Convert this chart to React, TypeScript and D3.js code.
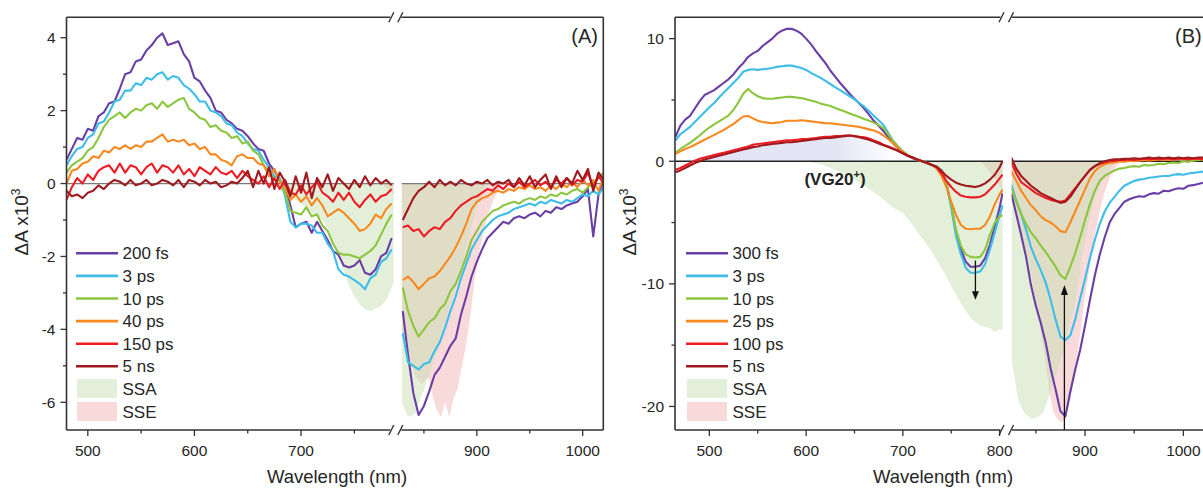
import React from "react";
import * as d3 from "d3";

// ---------------- DATA ----------------
const A_LABELS = ["200 fs", "3 ps", "10 ps", "40 ps", "150 ps", "5 ns"];
const B_LABELS = ["300 fs", "3 ps", "10 ps", "25 ps", "100 ps", "5 ns"];
const COLORS = ["#6a3fa5", "#3dbde8", "#8cc63e", "#f7891f", "#ed1c24", "#a0191e"];

// Panel A, segment 1 (visible range)
const A1_WL = [480,485,490,495,500,505,510,515,520,525,530,535,540,545,550,555,560,565,570,575,580,585,590,595,600,605,610,615,620,625,630,635,640,645,650,655,660,665,670,675,680,685,690,695,700,705,710,715,720,725,730,735,740,745,750,755,760,765,770,775,780,785];
const A1_200FS = [0.65,0.95,1.25,1.2,1.5,1.45,1.85,1.95,2.2,2.25, 2.6,3.0,3.05,3.35,3.4,3.65,3.8,4.0,4.12,3.8, 3.85,3.9,3.55,3.35,2.9,2.8,2.55,2.35,2.0,1.95, 1.75,1.65,1.5,1.45,1.3,1.1,0.95,0.9,0.55,0.35, 0.1,-0.05,-0.6,-1.2,-1.1,-1.05,-1.35,-1.05,-1.3,-1.55, -1.85,-1.95,-2.25,-2.3,-2.25,-2.1,-2.45,-2.5,-2.35,-2.0, -1.9,-1.5];
const A1_3PS = [0.5,0.75,0.95,1.0,1.25,1.35,1.65,1.7,1.95,2.25, 2.3,2.55,2.55,2.75,2.7,2.9,2.85,3.0,3.05,2.85, 2.95,2.9,2.7,2.6,2.45,2.25,2.25,2.0,1.95,1.85, 1.65,1.6,1.4,1.3,1.1,0.95,0.9,0.65,0.45,0.2, 0.15,-0.35,-1.05,-1.2,-1.1,-1.1,-1.15,-1.35,-1.35,-1.65, -1.85,-2.35,-2.5,-2.55,-2.65,-2.75,-2.9,-2.6,-2.5,-2.15, -2.05,-1.8];
const A1_10PS = [0.3,0.5,0.6,0.7,0.9,1.0,1.25,1.55,1.75,1.85, 1.95,1.8,1.95,2.05,2.0,2.15,2.2,2.05,2.25,2.1, 2.2,2.3,2.35,2.05,1.95,1.8,1.75,1.55,1.6,1.45, 1.4,1.25,1.3,1.1,1.15,0.9,0.8,0.5,0.35,0.1, 0.1,-0.25,-0.75,-0.8,-0.85,-0.65,-0.9,-0.85,-1.15,-1.3, -1.65,-1.9,-1.95,-1.95,-2.0,-2.05,-1.95,-1.85,-1.7,-1.4, -1.1,-0.85];
const A1_40PS = [0.0,0.35,0.4,0.55,0.6,0.75,0.7,0.9,0.85,1.0, 0.95,1.05,0.95,1.05,1.0,1.15,1.15,1.25,1.35,1.15, 1.2,1.15,1.2,1.05,1.1,0.95,1.0,0.8,0.8,0.65, 0.6,0.5,0.75,0.8,0.7,0.7,0.55,0.5,0.2,0.4, 0.05,-0.1,-0.45,-0.3,-0.5,-0.35,-0.6,-0.4,-0.6,-0.9, -0.8,-0.7,-0.8,-0.95,-1.1,-1.3,-1.25,-1.1,-0.85,-0.95, -0.7,-0.55];
const A1_150PS = [-0.45,-0.1,0.15,0.0,0.25,0.1,0.35,0.45,0.5,0.3, 0.55,0.3,0.5,0.45,0.25,0.45,0.55,0.3,0.5,0.45, 0.3,0.5,0.25,0.4,0.2,0.45,0.35,0.25,0.45,0.3, 0.25,0.35,0.15,0.35,0.2,0.1,0.0,0.2,-0.1,0.15, -0.15,0.1,-0.25,-0.3,-0.05,-0.3,-0.1,0.05,-0.25,-0.35, -0.5,-0.25,-0.45,-0.25,-0.5,-0.65,-0.45,-0.3,-0.5,-0.35, -0.3,-0.15];
const A1_5NS = [-0.2,-0.35,-0.3,-0.4,-0.25,-0.2,-0.05,-0.15,0.0,0.1, 0.05,-0.05,0.1,-0.05,0.0,0.1,-0.05,0.0,0.1,0.05, -0.05,0.1,-0.1,0.1,0.05,-0.05,0.1,0.0,0.05,-0.1, -0.05,0.05,0.0,0.15,0.35,-0.1,0.35,0.0,0.45,-0.15, 0.3,0.05,-0.35,0.2,-0.25,0.3,-0.4,0.15,-0.1,0.25, -0.2,0.15,0.0,-0.15,0.1,-0.1,0.2,-0.05,0.15,0.0, 0.1,-0.05];

// Panel A, segment 2
const A2_WL = [830,835,840,845,850,855,860,865,870,875,880,885,890,895,900,905,910,915,920,925,930,935,940,945,950,955,960,965,970,975,980,985,990,995,1000,1005,1010,1015,1020];
const A2_200FS = [-3.5,-4.7,-5.75,-6.35,-6.1,-5.7,-5.25,-5.05,-4.75,-4.45, -4.25,-3.6,-3.1,-2.55,-2.15,-1.8,-1.5,-1.35,-1.2,-1.05, -1.1,-0.95,-0.9,-0.95,-0.85,-0.8,-0.9,-0.75,-0.8,-0.65, -0.7,-0.6,-0.55,-0.5,-0.35,-0.15,-1.45,-0.3,0.1];
const A2_3PS = [-4.1,-4.9,-5.0,-5.1,-4.95,-4.9,-4.6,-4.35,-3.95,-3.5, -3.1,-2.6,-2.2,-1.8,-1.55,-1.3,-1.15,-1.0,-0.9,-0.85, -0.8,-0.7,-0.65,-0.6,-0.55,-0.6,-0.5,-0.55,-0.45,-0.5, -0.55,-0.45,-0.5,-0.4,-0.3,-0.35,-0.2,-0.3,-0.1];
const A2_10PS = [-2.85,-3.5,-3.9,-4.2,-4.0,-3.8,-3.7,-3.45,-3.3,-2.95, -2.75,-2.4,-2.0,-1.55,-1.3,-1.05,-0.9,-0.75,-0.7,-0.6, -0.55,-0.5,-0.55,-0.45,-0.4,-0.45,-0.35,-0.4,-0.3,-0.35, -0.25,-0.3,-0.2,-0.15,-0.25,-0.1,0.0,0.15,0.3];
const A2_40PS = [-2.65,-2.55,-2.7,-2.9,-2.75,-2.6,-2.55,-2.4,-2.2,-2.0, -1.75,-1.45,-1.1,-0.7,-0.5,-0.4,-0.35,-0.25,-0.2,-0.25, -0.15,-0.2,-0.1,-0.15,-0.05,-0.15,-0.1,-0.2,-0.05,-0.15, 0.0,-0.1,0.05,-0.1,0.1,-0.05,0.1,-0.2,0.2];
const A2_150PS = [-1.2,-1.15,-1.3,-1.25,-1.45,-1.3,-1.2,-1.25,-1.05,-0.95, -0.75,-0.6,-0.5,-0.4,-0.35,-0.25,-0.15,-0.2,-0.05,-0.15, 0.0,-0.1,0.05,-0.1,0.0,0.1,-0.05,0.05,-0.1,0.1, 0.0,0.15,-0.05,0.1,0.05,0.3,-0.1,0.2,0.0];
const A2_5NS = [-1.0,-0.7,-0.4,-0.2,-0.1,0.05,-0.1,0.1,-0.05,0.05, -0.05,0.1,0.0,-0.05,0.05,0.0,0.1,-0.05,0.05,0.0, 0.1,-0.1,0.15,-0.05,0.2,-0.1,0.1,0.25,-0.15,0.2, -0.1,0.15,0.0,0.35,0.1,0.4,-0.2,0.3,0.1];

// Panel A steady-state fills
const A1_SSA_WL = [665,680,690,700,710,720,725,730,735,740,745,750,755,760,765,770,775,780,785,787];
const A1_SSA = [0,-0.15,-0.35,-0.55,-0.8,-1.0,-1.2,-1.6,-2.0,-2.4,-2.8,-3.1,-3.3,-3.45,-3.5,-3.42,-3.35,-3.2,-2.85,-2.7];
const A1_SSE_WL = [775,781,787];
const A1_SSE = [0,-0.15,-0.3];
const A2_SSA_WL = [829,835,842,848,857,866,875,885,892,901,908,913];
const A2_SSA = [-6.0,-6.4,-6.3,-5.8,-5.1,-4.2,-3.3,-2.4,-1.5,-0.55,-0.1,0];
const A2_SSE_WL = [829,835,842,848,854,858,862,866,870,874,878,882,886,890,894,898,902,906,910,915,920,926];
const A2_SSE = [-4.0,-4.6,-5.3,-5.5,-5.3,-5.8,-6.2,-6.4,-6.0,-6.4,-5.9,-5.6,-5.0,-4.4,-3.6,-2.6,-1.9,-1.4,-0.9,-0.5,-0.2,0];

// Panel B, segment 1
const B1_WL = [465,470,475,480,485,490,495,500,505,510,515,520,525,530,535,540,545,550,555,560,565,570,575,580,585,590,595,600,605,610,615,620,625,630,635,640,645,650,655,660,665,670,675,680,685,690,695,700,705,710,715,720,725,730,735,740,745,750,755,760,765,770,775,780,785,790,795,800,803];
const B1_300FS = [2.0,2.9,3.4,3.7,4.3,4.9,5.4,5.6,5.8,6.1, 6.4,6.7,7.1,7.6,8.0,8.5,8.8,9.0,9.4,9.7, 10.0,10.4,10.65,10.8,10.8,10.65,10.4,10.0,9.55,9.0, 8.5,8.0,7.4,6.9,6.4,5.95,5.5,5.1,4.7,4.3, 3.8,3.3,2.9,2.45,1.95,1.45,1.05,0.7,0.45,0.25, 0.1,0.0,-0.15,-0.3,-0.45,-0.75,-1.8,-3.6,-5.8,-7.2, -8.2,-8.6,-8.6,-8.5,-7.9,-6.8,-5.3,-3.8,-2.6];
const B1_3PS = [1.7,2.2,2.5,2.8,3.2,3.6,4.0,4.4,4.75,5.2, 5.6,6.0,6.4,6.8,7.3,7.45,7.5,7.45,7.5,7.55, 7.6,7.7,7.75,7.8,7.8,7.7,7.6,7.45,7.2,7.0, 6.8,6.55,6.3,6.05,5.8,5.55,5.3,5.05,4.75,4.45, 4.1,3.7,3.35,2.95,2.3,1.65,1.2,0.8,0.5,0.3, 0.1,0.0,-0.15,-0.3,-0.45,-0.8,-1.9,-3.8,-6.1,-7.6, -8.7,-9.1,-9.1,-9.0,-8.4,-7.2,-5.8,-4.4,-3.6];
const B1_10PS = [0.7,1.0,1.25,1.5,1.8,2.1,2.45,2.75,3.0,3.25, 3.5,3.75,4.2,4.8,5.5,5.9,5.55,5.3,5.15,5.1, 5.1,5.15,5.2,5.25,5.25,5.2,5.15,5.05,4.95,4.85, 4.7,4.6,4.5,4.35,4.2,4.05,3.9,3.75,3.6,3.45, 3.3,3.15,2.95,2.7,2.2,1.65,1.2,0.8,0.5,0.3, 0.1,0.0,-0.15,-0.3,-0.45,-0.8,-1.8,-3.6,-5.6,-6.9, -7.6,-7.8,-7.85,-7.8,-7.2,-6.0,-5.0,-4.5,-4.4];
const B1_25PS = [0.6,0.8,1.0,1.15,1.35,1.55,1.75,1.95,2.15,2.35, 2.55,2.8,3.05,3.35,3.65,3.7,3.5,3.3,3.2,3.15, 3.1,3.15,3.2,3.3,3.3,3.3,3.35,3.3,3.25,3.2, 3.15,3.1,3.1,3.05,3.0,2.95,2.9,2.85,2.8,2.7, 2.6,2.5,2.35,2.1,1.8,1.45,1.1,0.75,0.5,0.3, 0.15,0.0,-0.15,-0.3,-0.6,-1.2,-2.1,-3.3,-4.4,-5.2, -5.5,-5.55,-5.5,-5.5,-5.2,-4.5,-3.5,-2.7,-2.3];
const B1_100PS = [-0.7,-0.55,-0.35,-0.15,0.05,0.2,0.3,0.4,0.5,0.6, 0.7,0.8,0.9,1.0,1.1,1.2,1.35,1.4,1.45,1.5, 1.55,1.6,1.65,1.7,1.7,1.75,1.8,1.8,1.85,1.9, 1.95,2.0,2.0,2.05,2.05,2.1,2.1,2.05,2.0,1.95, 1.85,1.7,1.55,1.35,1.2,1.05,0.85,0.65,0.45,0.3, 0.15,0.0,-0.15,-0.3,-0.5,-1.0,-1.6,-2.1,-2.5,-2.8, -2.9,-2.95,-2.95,-2.9,-2.7,-2.3,-1.9,-1.4,-1.1];
const B1_5NS = [-0.9,-0.75,-0.55,-0.35,-0.15,0.0,0.15,0.25,0.35,0.45, 0.55,0.65,0.75,0.85,0.95,1.05,1.15,1.2,1.3,1.35, 1.4,1.45,1.5,1.55,1.55,1.6,1.65,1.7,1.75,1.8, 1.85,1.9,1.9,1.95,2.0,2.05,2.1,2.05,1.95,1.85, 1.75,1.6,1.45,1.3,1.15,1.0,0.85,0.65,0.45,0.3, 0.15,0.0,-0.15,-0.3,-0.45,-0.8,-1.2,-1.5,-1.75,-1.9, -2.0,-2.05,-2.1,-2.0,-1.8,-1.5,-1.1,-0.5,0.0];

// Panel B, segment 2
const B2_WL = [825,830,835,840,845,850,855,860,865,870,875,880,885,890,895,900,905,910,915,920,925,930,935,940,945,950,955,960,965,970,975,980,985,990,995,1000,1005,1010,1015,1020];
const B2_300FS = [-2.6,-4.3,-6.0,-7.8,-10.1,-11.8,-13.2,-14.8,-16.9,-18.6, -20.4,-20.8,-18.8,-17.0,-15.4,-13.4,-11.3,-9.3,-7.6,-6.2, -5.0,-4.3,-3.8,-3.3,-3.1,-2.95,-2.85,-2.9,-2.7,-2.6, -2.65,-2.4,-2.45,-2.3,-2.2,-2.25,-2.0,-1.95,-1.85,-1.75];
const B2_3PS = [-1.9,-3.2,-4.3,-5.6,-7.0,-8.0,-8.9,-9.9,-11.3,-12.9, -14.3,-14.6,-14.2,-12.9,-11.2,-9.6,-7.9,-6.4,-5.1,-4.1, -3.4,-2.9,-2.4,-2.0,-1.8,-1.6,-1.5,-1.45,-1.35,-1.3, -1.25,-1.2,-1.2,-1.1,-1.05,-1.1,-1.0,-0.95,-0.9,-0.85];
const B2_10PS = [-2.2,-3.3,-4.3,-5.1,-5.8,-6.3,-6.9,-7.4,-8.0,-8.6, -9.3,-9.6,-8.6,-7.5,-6.2,-4.8,-3.5,-2.4,-1.6,-1.2, -0.95,-0.75,-0.6,-0.55,-0.45,-0.4,-0.45,-0.3,-0.35,-0.3, -0.2,-0.25,-0.15,-0.1,-0.15,0.0,-0.05,0.05,0.1,0.1];
const B2_25PS = [-0.8,-1.6,-2.4,-3.0,-3.6,-4.0,-4.5,-4.8,-5.0,-5.3, -5.7,-5.8,-5.0,-4.1,-3.2,-2.3,-1.4,-0.8,-0.45,-0.25, -0.15,-0.1,0.0,-0.05,0.05,0.0,0.05,0.1,0.05,0.1, 0.15,0.1,0.15,0.1,0.2,0.15,0.2,0.15,0.2,0.25];
const B2_100PS = [-0.1,-1.0,-1.7,-2.0,-2.3,-2.6,-2.8,-3.0,-3.15,-3.25, -3.3,-3.2,-2.7,-2.2,-1.7,-1.2,-0.7,-0.4,-0.2,-0.1, 0.0,0.05,0.1,0.1,0.15,0.1,0.15,0.2,0.15,0.2, 0.15,0.2,0.2,0.15,0.2,0.2,0.15,0.2,0.2,0.15];
const B2_5NS = [0.3,-0.6,-1.2,-1.6,-2.0,-2.3,-2.6,-2.8,-3.0,-3.2, -3.4,-3.3,-2.9,-2.3,-1.7,-1.2,-0.7,-0.4,-0.15,0.0, 0.1,0.15,0.15,0.2,0.2,0.25,0.2,0.25,0.3,0.25, 0.3,0.25,0.3,0.25,0.3,0.25,0.3,0.25,0.3,0.3];

// Panel B steady-state fills
const B1_SSA_WL = [600,615,630,645,660,675,690,700,710,720,730,740,750,760,770,780,790,795,800,803];
const B1_SSA = [0,-0.25,-0.7,-1.3,-2.0,-2.8,-3.8,-4.2,-5.2,-6.3,-7.4,-8.7,-10.2,-11.6,-12.8,-13.4,-13.6,-13.9,-13.7,-13.8];
const B1_SSE_WL = [780,785,790,795,800,803];
const B1_SSE = [0,-0.4,-0.9,-1.4,-2.0,-2.4];
const B2_SSA_WL = [825,828,832,838,845,852,858,862,866,872,878,884,890,895,900,905,910,915,920,926,932];
const B2_SSA = [-16,-17.5,-19.5,-20.5,-21.0,-20.9,-20.4,-19.5,-18.5,-17.0,-15.5,-13.5,-11.5,-9.0,-6.5,-4.5,-3.0,-2.0,-1.2,-0.5,0];
const B2_SSE_WL = [825,830,836,842,848,854,860,864,868,872,876,880,884,888,892,896,900,905,910,915,920,926,932,938];
const B2_SSE = [-3,-4.5,-6,-8,-10.5,-13.5,-16.5,-19,-20.5,-21.0,-21.3,-21.0,-19.8,-18.0,-16.0,-13.5,-11.0,-8.5,-6.0,-4.0,-2.5,-1.2,-0.4,0];
const B_VG_WL = [483,490,500,520,540,560,580,600,620,640,650,660,670,680,690,700,705];
const B_VG = [0,0.1,0.3,0.65,1.0,1.3,1.5,1.7,1.85,2.0,2.0,1.8,1.55,1.25,0.95,0.6,0.4];

// Ticks
const A_Y_MAJOR = [-6, -4, -2, 0, 2, 4];
const A_Y_MINOR = [-5, -3, -1, 1, 3];
const B_Y_MAJOR = [-20, -10, 0, 10];
const B_Y_MINOR = [-15, -5, 5];
const A_X1_MAJOR = [500, 600, 700];
const A_X1_MINOR = [550, 650, 750];
const B_X1_MAJOR = [500, 600, 700, 800];
const B_X1_MINOR = [550, 650, 750];
const X2_MAJOR = [900, 1000];
const X2_MINOR = [850, 950];

// ---------------- HELPERS ----------------
type P = [number, number];
const zip = (wl: number[], v: number[]): P[] => wl.map((w, i) => [w, v[i]] as P);
const FONT = "'Liberation Sans', Arial, Helvetica, sans-serif";
const TXT = "#262626";
const AX = "#333";
const SSA_LEG = "#e3efd9";
const SSA_FILL = "#c8e0b4";
const SSE_COL = "#f9dadb";

type Cfg = {
  id: string;
  left: number; right: number; top: number; bottom: number;
  d1: [number, number]; r1: [number, number];
  d2: [number, number]; r2: [number, number];
  yDomain: [number, number];
  yMajor: number[]; yMinor: number[];
  x1Major: number[]; x1Minor: number[];
  labels: string[];
  s1: number[][]; s2: number[][];
  wl1: number[]; wl2: number[];
  ssa1: P[]; ssa2: P[]; sse1: P[]; sse2: P[];
  vg?: P[];
  breaks: [number, number];
  zeroColor: string;
  panelLabel: string; plX: number; plAnchor: string;
  legX: number;
  yTitleX: number; xTitleX: number;
  arrows?: boolean;
};

function Panel({ c }: { c: Cfg }) {
  const x1 = d3.scaleLinear().domain(c.d1).range(c.r1);
  const x2 = d3.scaleLinear().domain(c.d2).range(c.r2);
  const y = d3.scaleLinear().domain(c.yDomain).range([c.bottom, c.top]);
  const l1 = d3.line<P>().x(d => x1(d[0])).y(d => y(d[1]));
  const l2 = d3.line<P>().x(d => x2(d[0])).y(d => y(d[1]));
  const a1 = d3.area<P>().x(d => x1(d[0])).y0(y(0)).y1(d => y(d[1]));
  const a2 = d3.area<P>().x(d => x2(d[0])).y0(y(0)).y1(d => y(d[1]));
  const y0 = y(0);
  const [b1, b2] = c.breaks;
  const slash = (bx: number, by: number, k: string) => (
    <line key={k} x1={bx - 2.5} y1={by + 5} x2={bx + 2.5} y2={by - 5} stroke={AX} strokeWidth={1.4} />
  );
  const legRows = c.labels.map((lab, i) => 253.3 + i * 22.6);
  return (
    <g fontFamily={FONT}>
      <defs>
        <clipPath id={`${c.id}c1`}><rect x={c.left} y={c.top} width={c.r1[1] - c.left} height={c.bottom - c.top} /></clipPath>
        <clipPath id={`${c.id}c2`}><rect x={c.r2[0]} y={c.top} width={c.right - c.r2[0]} height={c.bottom - c.top} /></clipPath>
        <linearGradient id={`${c.id}vg`} gradientUnits="userSpaceOnUse" x1={x1(630)} x2={x1(692)} y1={0} y2={0}>
          <stop offset="0" stopColor="#e3e5f4" stopOpacity={1} />
          <stop offset="1" stopColor="#e3e5f4" stopOpacity={0} />
        </linearGradient>
      </defs>
      {/* fills */}
      <g clipPath={`url(#${c.id}c1)`}>
        <path d={a1(c.sse1) || ""} fill={SSE_COL} />
        <path d={a1(c.ssa1) || ""} fill={SSA_FILL} fillOpacity={0.5} />
        {c.vg && <path d={a1(c.vg) || ""} fill={`url(#${c.id}vg)`} />}
      </g>
      <g clipPath={`url(#${c.id}c2)`}>
        <path d={a2(c.sse2) || ""} fill={SSE_COL} />
        <path d={a2(c.ssa2) || ""} fill={SSA_FILL} fillOpacity={0.5} />
      </g>
      {/* zero line */}
      <line x1={c.left} x2={c.r1[1]} y1={y0} y2={y0} stroke={c.zeroColor} strokeWidth={1.3} />
      <line x1={c.r2[0]} x2={c.right} y1={y0} y2={y0} stroke={c.zeroColor} strokeWidth={1.3} />
      {/* curves */}
      <g clipPath={`url(#${c.id}c1)`}>
        {c.s1.map((s, i) => (
          <path key={i} d={l1(zip(c.wl1, s)) || ""} fill="none" stroke={COLORS[i]} strokeWidth={2.1} strokeLinejoin="round" />
        ))}
      </g>
      <g clipPath={`url(#${c.id}c2)`}>
        {c.s2.map((s, i) => (
          <path key={i} d={l2(zip(c.wl2, s)) || ""} fill="none" stroke={COLORS[i]} strokeWidth={2.1} strokeLinejoin="round" />
        ))}
      </g>
      {/* arrows */}
      {c.arrows && (
        <g>
          <line x1={x1(775)} x2={x1(775)} y1={y(-8.1)} y2={y(-11.0)} stroke="#111" strokeWidth={1.3} />
          <path d={`M${x1(775) - 3.5},${y(-10.6)} L${x1(775) + 3.5},${y(-10.6)} L${x1(775)},${y(-11.3)} Z`} fill="#111" />
          <line x1={x2(879)} x2={x2(879)} y1={c.bottom} y2={y(-10.6)} stroke="#111" strokeWidth={1.3} />
          <path d={`M${x2(879) - 3.5},${y(-10.9)} L${x2(879) + 3.5},${y(-10.9)} L${x2(879)},${y(-10.1)} Z`} fill="#111" />
        </g>
      )}
      {/* frame */}
      <g stroke={AX} strokeWidth={1.6} fill="none">
        <line x1={c.left} x2={c.left} y1={c.top} y2={c.bottom} />
        <line x1={c.right} x2={c.right} y1={c.top} y2={c.bottom} />
        <line x1={c.left} x2={b1 - 1} y1={c.top} y2={c.top} />
        <line x1={b2 + 1} x2={c.right} y1={c.top} y2={c.top} />
        <line x1={c.left} x2={b1 - 1} y1={c.bottom} y2={c.bottom} />
        <line x1={b2 + 1} x2={c.right} y1={c.bottom} y2={c.bottom} />
      </g>
      {slash(b1, c.top, "t1")}{slash(b2, c.top, "t2")}
      {slash(b1, c.bottom, "b1")}{slash(b2, c.bottom, "b2")}
      {/* y ticks */}
      {c.yMajor.map(v => (
        <g key={`ym${v}`}>
          <line x1={c.left - 6} x2={c.left} y1={y(v)} y2={y(v)} stroke={AX} strokeWidth={1.3} />
          <text x={c.left - 11} y={y(v)} dy="0.36em" textAnchor="end" fontSize={15.5} fill={TXT}>{v}</text>
        </g>
      ))}
      {c.yMinor.map(v => (
        <line key={`yn${v}`} x1={c.left - 3.5} x2={c.left} y1={y(v)} y2={y(v)} stroke={AX} strokeWidth={1.3} />
      ))}
      {/* x ticks */}
      {c.x1Major.map(v => (
        <g key={`xa${v}`}>
          <line x1={x1(v)} x2={x1(v)} y1={c.bottom} y2={c.bottom + 6} stroke={AX} strokeWidth={1.3} />
          <text x={x1(v)} y={c.bottom + 26} textAnchor="middle" fontSize={15.5} fill={TXT}>{v}</text>
        </g>
      ))}
      {c.x1Minor.map(v => (
        <line key={`xb${v}`} x1={x1(v)} x2={x1(v)} y1={c.bottom} y2={c.bottom + 3.5} stroke={AX} strokeWidth={1.3} />
      ))}
      {X2_MAJOR.map(v => (
        <g key={`xc${v}`}>
          <line x1={x2(v)} x2={x2(v)} y1={c.bottom} y2={c.bottom + 6} stroke={AX} strokeWidth={1.3} />
          <text x={x2(v)} y={c.bottom + 26} textAnchor="middle" fontSize={15.5} fill={TXT}>{v}</text>
        </g>
      ))}
      {X2_MINOR.map(v => (
        <line key={`xd${v}`} x1={x2(v)} x2={x2(v)} y1={c.bottom} y2={c.bottom + 3.5} stroke={AX} strokeWidth={1.3} />
      ))}
      {/* titles */}
      <text x={c.xTitleX} y={c.bottom + 53} textAnchor="middle" fontSize={18.5} fill={TXT}>Wavelength (nm)</text>
      <text transform={`translate(${c.yTitleX},${222}) rotate(-90)`} textAnchor="middle" fontSize={19} fill={TXT}>
        ΔA x10<tspan fontSize={12} dy={-8}>3</tspan>
      </text>
      <text x={c.plX} y={43} textAnchor={c.plAnchor} fontSize={20} fill={TXT}>{c.panelLabel}</text>
      {/* legend */}
      {c.labels.map((lab, i) => (
        <g key={`lg${i}`}>
          <line x1={c.legX} x2={c.legX + 42} y1={legRows[i]} y2={legRows[i]} stroke={COLORS[i]} strokeWidth={2.6} />
          <text x={c.legX + 46.5} y={legRows[i]} dy="0.36em" fontSize={17} fill={TXT}>{lab}</text>
        </g>
      ))}
      <rect x={c.legX + 1} y={379} width={40} height={19} fill={SSA_LEG} />
      <text x={c.legX + 46.5} y={389} dy="0.36em" fontSize={17} fill={TXT}>SSA</text>
      <rect x={c.legX + 1} y={402} width={40} height={19} fill={SSE_COL} />
      <text x={c.legX + 46.5} y={411.5} dy="0.36em" fontSize={17} fill={TXT}>SSE</text>
    </g>
  );
}

const cfgA: Cfg = {
  id: "pa",
  left: 66.5, right: 603.3, top: 17.3, bottom: 430,
  d1: [480, 787], r1: [66.5, 393.8],
  d2: [829, 1019.5], r2: [401.7, 603.3],
  yDomain: [-6.76, 4.56],
  yMajor: A_Y_MAJOR, yMinor: A_Y_MINOR,
  x1Major: A_X1_MAJOR, x1Minor: A_X1_MINOR,
  labels: A_LABELS,
  wl1: A1_WL, wl2: A2_WL,
  s1: [A1_200FS, A1_3PS, A1_10PS, A1_40PS, A1_150PS, A1_5NS],
  s2: [A2_200FS, A2_3PS, A2_10PS, A2_40PS, A2_150PS, A2_5NS],
  ssa1: zip(A1_SSA_WL, A1_SSA), ssa2: zip(A2_SSA_WL, A2_SSA),
  sse1: zip(A1_SSE_WL, A1_SSE), sse2: zip(A2_SSE_WL, A2_SSE),
  breaks: [391.3, 400.3],
  zeroColor: "#7a7a7a",
  panelLabel: "(A)", plX: 598, plAnchor: "end",
  legX: 76,
  yTitleX: 28, xTitleX: 337,
};

const cfgB: Cfg = {
  id: "pb",
  left: 675, right: 1206, top: 17.3, bottom: 430,
  d1: [464.5, 803.5], r1: [675, 1003],
  d2: [825.4, 1022], r2: [1011.7, 1205],
  yDomain: [-21.92, 11.74],
  yMajor: B_Y_MAJOR, yMinor: B_Y_MINOR,
  x1Major: B_X1_MAJOR, x1Minor: B_X1_MINOR,
  labels: B_LABELS,
  wl1: B1_WL, wl2: B2_WL,
  s1: [B1_300FS, B1_3PS, B1_10PS, B1_25PS, B1_100PS, B1_5NS],
  s2: [B2_300FS, B2_3PS, B2_10PS, B2_25PS, B2_100PS, B2_5NS],
  ssa1: zip(B1_SSA_WL, B1_SSA), ssa2: zip(B2_SSA_WL, B2_SSA),
  sse1: zip(B1_SSE_WL, B1_SSE), sse2: zip(B2_SSE_WL, B2_SSE),
  vg: zip(B_VG_WL, B_VG),
  breaks: [1001.5, 1011],
  zeroColor: "#222",
  panelLabel: "(B)", plX: 1175, plAnchor: "start",
  legX: 686,
  yTitleX: 636, xTitleX: 943,
  arrows: true,
};

export default function App() {
  return (
    <svg width={1203} height={492} style={{ position: "absolute", left: 0, top: 0, background: "#fff" }}>
      <rect x={0} y={0} width={1203} height={492} fill="#fff" />
      <Panel c={cfgA} />
      <Panel c={cfgB} />
      <text x={835} y={185} textAnchor="middle" fontFamily={FONT} fontWeight="bold" fontSize={17} fill="#222">
        (VG20<tspan fontSize={11} dy={-7}>+</tspan><tspan dy={7}>)</tspan>
      </text>
    </svg>
  );
}
